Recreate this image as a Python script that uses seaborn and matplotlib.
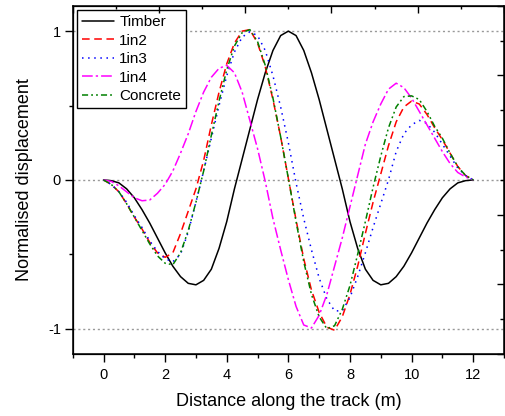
import numpy as np
import pandas as pd
import seaborn as sns
import matplotlib.pyplot as plt
from matplotlib.ticker import MultipleLocator

# distance along the track (m)
distance = [0, 0.25, 0.5, 0.75, 1.0, 1.25, 1.5, 1.75, 2.0, 2.25, 2.5, 2.75,
            3.0, 3.25, 3.5, 3.75, 4.0, 4.25, 4.5, 4.75, 5.0, 5.25, 5.5, 5.75,
            6.0, 6.25, 6.5, 6.75, 7.0, 7.25, 7.5, 7.75, 8.0, 8.25, 8.5, 8.75,
            9.0, 9.25, 9.5, 9.75, 10.0, 10.25, 10.5, 10.75, 11.0, 11.25, 11.5,
            11.75, 12.0]

timber = [0, -0.005, -0.02, -0.06, -0.12, -0.20, -0.29, -0.39, -0.49, -0.58,
          -0.65, -0.695, -0.705, -0.675, -0.60, -0.46, -0.28, -0.06, 0.14,
          0.34, 0.54, 0.72, 0.87, 0.97, 1.0, 0.97, 0.87, 0.72, 0.54, 0.34,
          0.14, -0.06, -0.28, -0.46, -0.60, -0.675, -0.705, -0.695, -0.65,
          -0.58, -0.49, -0.39, -0.29, -0.20, -0.12, -0.06, -0.02, -0.005, 0]

in2 = [0, -0.03, -0.08, -0.16, -0.25, -0.33, -0.42, -0.49, -0.52, -0.49,
       -0.36, -0.21, -0.06, 0.13, 0.37, 0.59, 0.78, 0.92, 1.00, 1.01, 0.92,
       0.76, 0.54, 0.29, 0.01, -0.27, -0.53, -0.74, -0.89, -0.99, -1.01,
       -0.92, -0.77, -0.58, -0.36, -0.15, 0.04, 0.23, 0.39, 0.49, 0.53, 0.51,
       0.44, 0.35, 0.27, 0.18, 0.09, 0.03, 0]

in3 = [0, -0.03, -0.08, -0.15, -0.24, -0.32, -0.41, -0.48, -0.53, -0.55,
       -0.50, -0.35, -0.15, 0.06, 0.28, 0.50, 0.70, 0.86, 0.96, 0.995, 0.97,
       0.87, 0.70, 0.49, 0.25, -0.02, -0.26, -0.47, -0.66, -0.80, -0.88,
       -0.88, -0.79, -0.65, -0.49, -0.32, -0.16, 0.0, 0.19, 0.31, 0.37, 0.40,
       0.38, 0.32, 0.24, 0.16, 0.08, 0.03, 0]

in4 = [0, -0.01, -0.04, -0.08, -0.12, -0.14, -0.135, -0.09, -0.03, 0.06,
       0.18, 0.31, 0.46, 0.59, 0.69, 0.75, 0.77, 0.72, 0.59, 0.40, 0.21,
       -0.01, -0.26, -0.47, -0.67, -0.85, -0.975, -0.995, -0.91, -0.77,
       -0.58, -0.39, -0.18, 0.03, 0.24, 0.39, 0.51, 0.61, 0.65, 0.62, 0.55,
       0.46, 0.37, 0.28, 0.19, 0.11, 0.05, 0.02, 0]

concrete = [0, -0.03, -0.08, -0.16, -0.25, -0.34, -0.43, -0.51, -0.56, -0.57,
            -0.49, -0.34, -0.15, 0.06, 0.30, 0.53, 0.74, 0.90, 0.99, 1.01,
            0.93, 0.77, 0.55, 0.29, 0.01, -0.28, -0.55, -0.77, -0.92, -1.0,
            -0.98, -0.87, -0.71, -0.50, -0.28, -0.05, 0.16, 0.35, 0.49, 0.56,
            0.565, 0.54, 0.46, 0.36, 0.28, 0.18, 0.09, 0.03, 0]

labels = ['Timber', '1in2', '1in3', '1in4', 'Concrete']
series = [timber, in2, in3, in4, concrete]
colors = {'Timber': 'black', '1in2': '#ff0000', '1in3': '#0000ff',
          '1in4': '#ff00ff', 'Concrete': '#008000'}
dashes = {'Timber': '', '1in2': (5, 3), '1in3': (1, 3),
          '1in4': (7, 2, 1.5, 2), 'Concrete': (4, 2, 1.2, 2, 1.2, 2)}

df = pd.concat([pd.DataFrame({'x': distance, 'y': vals, 'track': name})
                for name, vals in zip(labels, series)], ignore_index=True)

sns.set_style('ticks', {'axes.edgecolor': 'black', 'xtick.color': 'black',
                        'ytick.color': 'black', 'text.color': 'black',
                        'axes.labelcolor': 'black'})
plt.rcParams['font.family'] = ['Liberation Sans', 'DejaVu Sans']
plt.rcParams['axes.unicode_minus'] = False

fig = plt.figure(figsize=(5.05, 4.16), dpi=100)
ax = fig.add_axes([0.144, 0.149, 0.854, 0.837])

sns.lineplot(data=df, x='x', y='y', hue='track', style='track',
             hue_order=labels, style_order=labels, palette=colors,
             dashes=dashes, linewidth=1.1, sort=False, ax=ax)

ax.set_xlim(-1, 13)
ax.set_ylim(-1.17, 1.17)
ax.xaxis.set_major_locator(MultipleLocator(2))
ax.xaxis.set_minor_locator(MultipleLocator(1))
ax.yaxis.set_major_locator(MultipleLocator(1))
ax.yaxis.set_minor_locator(MultipleLocator(0.5))
ax.tick_params(which='major', direction='out', length=5.5, width=1,
               labelsize=10.5, pad=3)
ax.tick_params(which='minor', direction='out', length=3, width=1)
ax.tick_params(axis='x', pad=4.5)
ax.grid(axis='y', which='major', color='#999999', linestyle=(0, (1.5, 2)),
        linewidth=1)
for s in ax.spines.values():
    s.set_linewidth(1.1)
ax.set_xlabel('Distance along the track (m)', fontsize=13, labelpad=8)
ax.set_ylabel('Normalised displacement', fontsize=13, labelpad=11)

# inward ticks on the top and right frame, no labels
top = ax.twiny()
top.set_xlim(0, 1)
top.xaxis.set_major_locator(MultipleLocator(0.2))
top.xaxis.set_minor_locator(MultipleLocator(0.1))
top.tick_params(axis='x', which='major', direction='in', length=5, width=1,
                labeltop=False)
top.tick_params(axis='x', which='minor', direction='in', length=2.5, width=1)
right = ax.twinx()
right.set_ylim(0, 1)
right.yaxis.set_major_locator(MultipleLocator(0.2))
right.yaxis.set_minor_locator(MultipleLocator(0.1))
right.tick_params(axis='y', which='major', direction='in', length=5, width=1,
                  labelright=False)
right.tick_params(axis='y', which='minor', direction='in', length=3, width=1)

handles, labs = ax.get_legend_handles_labels()
leg = ax.legend(handles, labs, loc='upper left', fontsize=11,
                frameon=True, fancybox=False, edgecolor='black',
                framealpha=1, handlelength=2.1, handletextpad=0.35,
                labelspacing=0.3, borderpad=0.3, borderaxespad=0.3)
leg.get_frame().set_linewidth(1.0)
leg.set_zorder(5)

fig.savefig('out.png', dpi=100)
